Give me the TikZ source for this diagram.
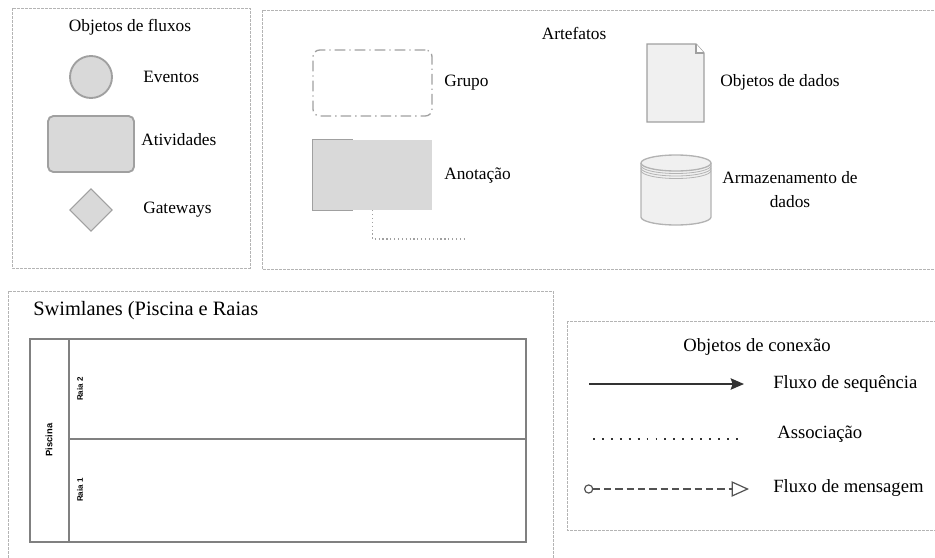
\documentclass[tikz,border=0pt]{standalone}
\usepackage{fontspec}
\setmainfont{Liberation Serif}
\setsansfont{Liberation Sans}
\usetikzlibrary{arrows.meta, shapes.geometric}
\definecolor{framegray}{HTML}{B4B4B4}
\definecolor{shapefill}{HTML}{D9D9D9}
\definecolor{shapeline}{HTML}{A0A0A0}
\definecolor{paperfill}{HTML}{F0F0F0}
\definecolor{lanegray}{HTML}{808080}
\definecolor{linkgray}{HTML}{333333}
\tikzset{
  frame/.style={draw=framegray, line width=.6pt, dash pattern=on 2pt off 1pt},
  flowshape/.style={fill=shapefill, draw=shapeline, line width=1.4pt, inner sep=0pt},
  lbl/.style={anchor=west, inner sep=0pt, font=\fontsize{13}{15}\selectfont},
  bigl/.style={anchor=west, inner sep=0pt, font=\fontsize{14}{16}\selectfont},
  ttl/.style={inner sep=0pt, font=\fontsize{13}{15}\selectfont},
  paper/.style={draw=shapeline, fill=paperfill, line width=1pt},
  cyl/.style={draw=shapeline!80, line width=1pt},
  lane/.style={draw=lanegray, line width=1pt},
  lanetxt/.style={inner sep=0pt, rotate=90, font=\sffamily\bfseries\fontsize{6}{7}\selectfont},
  seqflow/.style={draw=linkgray, line width=1.4pt, -{Stealth[length=10pt, width=8.5pt, inset=1.5pt]}},
  assoc/.style={draw=linkgray, line width=1.6pt, dash pattern=on 1.4pt off 5.3pt},
  msgflow/.style={draw=linkgray!85, line width=.9pt, dash pattern=on 5.5pt off 3pt,
    {Circle[open, length=7pt, width=7pt]}-{Triangle[open, length=13pt, width=11.5pt]}}
}
\begin{document}
\begin{tikzpicture}[x=0.75pt, y=-0.75pt]
  \useasboundingbox (0,0) rectangle (935,557);
  \clip (0,0) rectangle (935,557);

  \draw[frame] (12,8) rectangle (250,268);
  \node[ttl] (tfluxos) at (130,27) {Objetos de fluxos};
  \node[flowshape, circle, minimum size=31.5pt] (evento) at (91,77) {};
  \node[lbl] (leventos) at (143,77) {Eventos};
  \node[flowshape, rounded corners=4pt, minimum width=64.5pt, minimum height=42pt] (atividade) at (91,144) {};
  \node[lbl] (latividades) at (141,140) {Atividades};
  \node[flowshape, diamond, line width=.8pt, minimum width=32pt, minimum height=32pt] (gateway) at (91,210) {};
  \node[lbl] (lgateways) at (143,210) {Gateways};

  \draw[frame] (262,10) rectangle (945,269);
  \node[ttl] (tartefatos) at (574,33) {Artefatos};
  \node[draw=shapeline, line width=1pt, rounded corners=5pt, dash pattern=on 8pt off 3pt on 1pt off 3pt,
    minimum width=89.25pt, minimum height=49.5pt] (grupo) at (372.5,83) {};
  \node[lbl] (lgrupo) at (444,83) {Grupo};
  \node[fill=shapefill, minimum width=89.25pt, minimum height=52.5pt] (nota) at (372.5,175) {};
  \draw[draw=shapeline, line width=1pt] (nota.north west) ++(40,0) -- (nota.north west) -- (nota.south west) -- ++(40,0);
  \coordinate (notafim) at (465,239);
  \draw[draw=shapeline, line width=.9pt, dotted] (nota.south) |- (notafim);
  \node[lbl] (lnota) at (444,176) {Anotação};

  \draw[paper] (647,44) -- (696,44) -- (704,53) -- (704,122) -- (647,122) -- cycle;
  \draw[paper, fill=white] (696,44) -- (696,53) -- (704,53);
  \node[lbl] (ldados) at (720,82) {Objetos de dados};
  \fill[paperfill] (641,163) -- (641,217) arc[start angle=180, end angle=360, x radius=26.25pt, y radius=6pt] -- (711,163) -- cycle;
  \draw[cyl] (641,163) -- (641,217) arc[start angle=180, end angle=360, x radius=26.25pt, y radius=6pt] -- (711,163);
  \draw[cyl, fill=paperfill] (676,163) ellipse [x radius=26.25pt, y radius=6pt];
  \foreach \d in {2.5,5,7.5}
    \draw[cyl, line width=.6pt] (641,163+\d) arc[start angle=180, end angle=360, x radius=26.25pt, y radius=6pt];
  \node[ttl, align=center, font=\fontsize{13}{18}\selectfont] (larmaz) at (790,190) {Armazenamento de\\dados};

  \draw[frame] (8,291) rectangle (553,570);
  \node[anchor=west, inner sep=0pt, font=\fontsize{15.3}{18}\selectfont] (tswim) at (33,311) {Swimlanes (Piscina e Raias};
  \draw[lane] (30,339) rectangle (526,542);
  \draw[lane] (69,339) -- (69,542);
  \draw[lane] (69,439) -- (526,439);
  \node[lanetxt, font=\sffamily\bfseries\fontsize{7}{8}\selectfont] (piscina) at (49,440) {Piscina};
  \node[lanetxt] (raia2) at (80,389) {Raia 2};
  \node[lanetxt] (raia1) at (80,490) {Raia 1};

  \draw[frame] (567,321) rectangle (945,530);
  \node[ttl, font=\fontsize{14}{16}\selectfont] (tconexao) at (757,347) {Objetos de conexão};
  \coordinate (seqA) at (589,384);
  \coordinate (seqB) at (744,384);
  \draw[seqflow] (seqA) -- (seqB);
  \node[bigl] (lseq) at (773,384) {Fluxo de sequência};
  \coordinate (assA) at (593,439);
  \coordinate (assB) at (742,439);
  \draw[assoc] (assA) -- (assB);
  \node[bigl] (lass) at (777,434) {Associação};
  \coordinate (msgA) at (584,489);
  \coordinate (msgB) at (749,489);
  \draw[msgflow] (msgA) -- (msgB);
  \node[bigl] (lmsg) at (773,488) {Fluxo de mensagem};
\end{tikzpicture}
\end{document}
